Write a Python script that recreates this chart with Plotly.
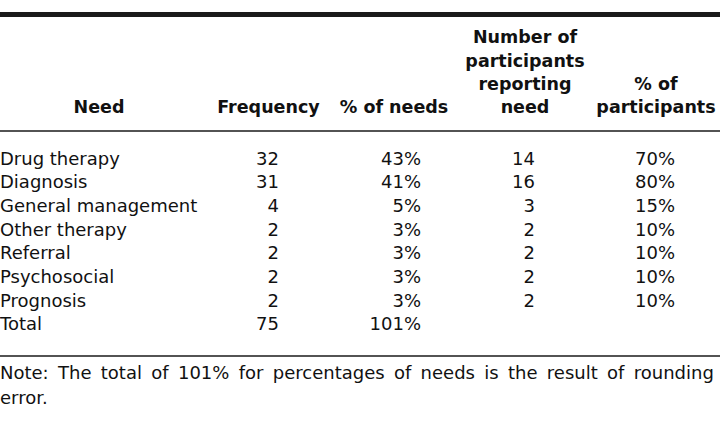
import plotly.graph_objects as go

# ---- data ----
needs = ["Drug therapy", "Diagnosis", "General management", "Other therapy",
         "Referral", "Psychosocial", "Prognosis", "Total"]
frequency = [32, 31, 4, 2, 2, 2, 2, 75]
pct_needs = [43, 41, 5, 3, 3, 3, 3, 101]
n_participants = [14, 16, 3, 2, 2, 2, 2, None]
pct_participants = [70, 80, 15, 10, 10, 10, 10, None]

headers = [["Need"], ["Frequency"], ["% of needs"],
           ["Number of", "participants", "reporting", "need"],
           ["% of", "participants"]]
note_lines = ["Note: The total of 101% for percentages of needs is the result of rounding",
              "error."]

# ---- layout constants ----
W, H = 720, 429
FONT = "DejaVu Sans"
BODY_SIZE = 18
HEAD_SIZE = 17.5
TXT = "#111111"
RULE = "#1a1a1a"

first_row = 160
row_step = 23.7
head_bottom = 109
head_step = 23.4
note_top = 374
note_step = 25

# (anchor x, textposition) for body, and center x for header
body_cols = [(0, "middle right"), (279, "middle left"), (421, "middle left"),
             (535, "middle left"), (675, "middle left")]
head_x = [99, 268.5, 394, 525, 656]

row_y = [first_row + i * row_step for i in range(len(needs))]

def fmt(v, pct=False):
    if v is None:
        return ""
    return f"{v}%" if pct else f"{v}"

columns = [
    needs,
    [fmt(v) for v in frequency],
    [fmt(v, True) for v in pct_needs],
    [fmt(v) for v in n_participants],
    [fmt(v, True) for v in pct_participants],
]

fig = go.Figure()

for (cx, pos), col in zip(body_cols, columns):
    fig.add_trace(go.Scatter(
        x=[cx] * len(col), y=row_y, text=col, mode="text",
        textposition=pos, hoverinfo="skip", showlegend=False,
        textfont=dict(family=FONT, size=BODY_SIZE, color=TXT),
    ))

for hx, lines in zip(head_x, headers):
    n = len(lines)
    ys = [head_bottom - (n - 1 - i) * head_step for i in range(n)]
    fig.add_trace(go.Scatter(
        x=[hx] * n, y=ys, text=[f"<b>{t}</b>" for t in lines], mode="text",
        textposition="middle center", hoverinfo="skip", showlegend=False,
        textfont=dict(family=FONT, size=HEAD_SIZE, color=TXT),
    ))

# justify the first note line a little by widening word gaps (thin spaces)
note_display = [note_lines[0].replace(" ", " \u2009"), note_lines[1]]
fig.add_trace(go.Scatter(
    x=[0] * len(note_display),
    y=[note_top + i * note_step for i in range(len(note_display))],
    text=note_display, mode="text", textposition="middle right",
    hoverinfo="skip", showlegend=False,
    textfont=dict(family=FONT, size=BODY_SIZE, color=TXT),
))

# horizontal rules
for y, w in [(14.5, 5), (131, 1.5), (356, 1.5)]:
    fig.add_shape(type="line", xref="paper", x0=0, x1=1, yref="y", y0=y, y1=y,
                  line=dict(color=RULE, width=w))

fig.update_layout(
    width=W, height=H, margin=dict(l=0, r=0, t=0, b=0),
    paper_bgcolor="white", plot_bgcolor="white",
    xaxis=dict(range=[0, W], visible=False, fixedrange=True),
    yaxis=dict(range=[H, 0], visible=False, fixedrange=True),
)

fig.write_html(
    "out.html",
    config={"displayModeBar": False, "staticPlot": True},
    post_script="document.body.style.margin='0';document.body.style.padding='0';"
                "document.body.style.overflow='hidden';",
)
